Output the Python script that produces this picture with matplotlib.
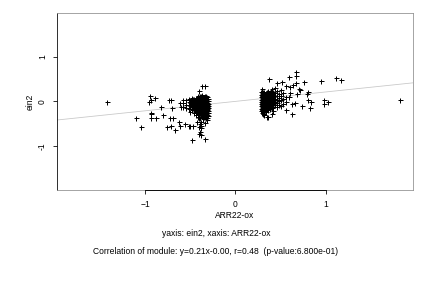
import matplotlib
matplotlib.use("Agg")
import matplotlib.pyplot as plt
import numpy as np

plt.rcParams['font.family'] = ['Liberation Sans', 'DejaVu Sans']

# dense part of the left cluster: column x -> y values
left_cols = [-0.31, -0.32, -0.33, -0.34, -0.35, -0.36, -0.37, -0.38, -0.39,
             -0.40, -0.41, -0.42, -0.43, -0.44, -0.45, -0.46, -0.47, -0.48,
             -0.50, -0.52, -0.55, -0.58]
left_ys = [
    [0.06, 0.01, -0.05, -0.10, -0.15, -0.21, -0.27, -0.33],
    [0.10, 0.05, 0.00, -0.04, -0.08, -0.12, -0.16, -0.20, -0.25, -0.30, -0.36, -0.42],
    [0.12, 0.03, -0.02, -0.06, -0.10, -0.14, -0.18, -0.23, -0.29, -0.38],
    [0.12, 0.07, 0.02, -0.03, -0.07, -0.11, -0.15, -0.19, -0.23, -0.28, -0.33, -0.48],
    [0.09, 0.04, -0.01, -0.05, -0.09, -0.13, -0.17, -0.21, -0.26, -0.34],
    [0.08, 0.03, -0.01, -0.05, -0.09, -0.14, -0.18, -0.22, -0.27, -0.40],
    [0.14, 0.10, 0.05, 0.00, -0.03, -0.07, -0.12, -0.16, -0.20, -0.25, -0.32],
    [0.13, 0.06, 0.01, -0.04, -0.08, -0.13, -0.17, -0.24, -0.31, -0.45, -0.55],
    [0.11, 0.07, 0.02, -0.02, -0.06, -0.10, -0.15, -0.19, -0.26, -0.36],
    [0.09, 0.03, -0.02, -0.06, -0.11, -0.16, -0.21, -0.28, -0.38],
    [0.06, 0.01, -0.04, -0.09, -0.14, -0.20, -0.31],
    [0.11, 0.04, -0.01, -0.07, -0.12, -0.19, -0.26, -0.35],
    [0.08, 0.02, -0.04, -0.10, -0.16, -0.23],
    [0.07, 0.02, -0.03, -0.09, -0.15, -0.22, -0.30],
    [0.04, -0.01, -0.07, -0.13, -0.19],
    [0.05, 0.00, -0.05, -0.10, -0.18, -0.27],
    [0.06, -0.02, -0.08, -0.15],
    [0.08, 0.01, -0.06, -0.13, -0.20],
    [0.03, -0.04, -0.11, -0.24],
    [0.06, -0.02, -0.09, -0.17],
    [0.02, -0.07, -0.14],
    [-0.03, -0.12, 0.04],
]

# dense part of the right cluster
right_cols = [0.28, 0.29, 0.30, 0.31, 0.32, 0.33, 0.34, 0.35, 0.36, 0.37, 0.38,
              0.39, 0.40, 0.42, 0.44, 0.46, 0.48, 0.50, 0.53, 0.56]
right_ys = [
    [0.20, 0.14, 0.09, 0.04, -0.01, -0.06, -0.11, -0.16, -0.22],
    [0.17, 0.11, 0.06, 0.01, -0.04, -0.09, -0.14, -0.19],
    [0.28, 0.18, 0.12, 0.07, 0.02, -0.03, -0.08, -0.13, -0.19, -0.26],
    [0.21, 0.15, 0.10, 0.04, -0.01, -0.06, -0.11, -0.17, -0.23],
    [0.22, 0.15, 0.10, 0.05, 0.00, -0.05, -0.10, -0.15, -0.21, -0.31],
    [0.17, 0.12, 0.07, 0.02, -0.03, -0.08, -0.13, -0.20],
    [0.19, 0.13, 0.08, 0.03, -0.02, -0.07, -0.12, -0.18, -0.24],
    [0.22, 0.14, 0.09, 0.04, -0.01, -0.06, -0.11, -0.16],
    [0.24, 0.16, 0.11, 0.06, 0.01, -0.04, -0.09, -0.14, -0.20],
    [0.18, 0.12, 0.07, 0.02, -0.03, -0.08, -0.13],
    [0.20, 0.14, 0.09, 0.04, -0.01, -0.06, -0.11, -0.17],
    [0.23, 0.16, 0.10, 0.05, 0.00, -0.05, -0.10],
    [0.27, 0.17, 0.12, 0.07, 0.02, -0.03, -0.08, -0.15],
    [0.21, 0.15, 0.10, 0.05, 0.00, -0.05, -0.12, -0.22],
    [0.30, 0.18, 0.11, 0.06, -0.02, -0.09],
    [0.23, 0.13, 0.04, -0.04, -0.13],
    [0.16, 0.08, 0.01, -0.07],
    [0.25, 0.12, 0.03, -0.10],
    [0.18, 0.06, -0.05],
    [0.10, -0.02, 0.35],
]

# scattered points around the clusters
sparse_x = [-1.43, -1.10, -1.05, -0.95, -0.94, -0.89, -0.96, -0.94, -0.94,
            -0.94, -0.88, -0.83, -0.80, -0.76, -0.71, -0.67, -0.73, -0.69,
            -0.48, -0.34, -0.37, -0.34, -0.40, -0.63, -0.61, -0.50, -0.47,
            -0.40, -0.40, -0.43, -0.39, -0.38, -0.39, -0.38, -0.74, -0.71,
            -0.70, -0.61, -0.60, -0.56, -0.52,
            0.67, 0.67, 0.59, 0.37, 1.12, 1.17, 0.95, 0.76, 0.67, 0.52, 0.46,
            0.60, 0.64, 0.70, 0.72, 0.81, 0.79, 0.68, 0.61, 0.59, 0.80, 0.84,
            0.98, 1.03, 0.98, 0.74, 0.83, 0.66, 0.63, 0.56, 0.63, 0.36, 0.35,
            0.31, 0.40, 1.83]
sparse_y = [-0.02, -0.37, -0.57, 0.11, 0.04, 0.07, -0.02, -0.26, -0.29,
            -0.37, -0.37, -0.13, -0.30, -0.58, -0.56, -0.65, -0.37, -0.37,
            -0.87, -0.85, 0.34, 0.34, 0.23, -0.46, -0.54, -0.56, -0.56,
            -0.57, -0.72, -0.46, -0.50, -0.60, -0.68, -0.76, 0.02, 0.04,
            -0.14, -0.03, -0.13, -0.50, -0.55,
            0.66, 0.56, 0.54, 0.49, 0.52, 0.47, 0.45, 0.43, 0.42, 0.43, 0.41,
            0.32, 0.36, 0.28, 0.25, 0.21, 0.17, 0.16, 0.19, 0.10, 0.02, -0.02,
            0.04, -0.02, -0.05, -0.11, -0.14, -0.04, -0.05, -0.20, -0.29, -0.34,
            -0.35, -0.28, -0.28, 0.02]

slope = 0.21
intercept = 0.00
x_ticks = [-1, 0, 1]
y_ticks = [-1, 0, 1]

xs, ys = [], []
for cx, col in zip(left_cols + right_cols, left_ys + right_ys):
    xs += [cx] * len(col)
    ys += col
xs += sparse_x
ys += sparse_y

fig = plt.figure(figsize=(6, 4), dpi=72)
ax = fig.add_axes([0.132, 0.34, 0.824, 0.616])

xlim = (-1.98, 1.97)
ax.set_xlim(xlim)
ax.set_ylim(-1.98, 1.98)

lx = np.array(xlim)
ax.plot(lx, slope * lx + intercept, color='#c8c8c8', lw=0.8, zorder=1)
ax.plot(xs, ys, '+', color='black', ms=5, mew=1.0, zorder=2)

for s in ['top', 'right', 'bottom']:
    ax.spines[s].set_color('#909090')
ax.spines['left'].set_color('black')
for s in ax.spines.values():
    s.set_linewidth(0.8)
ax.plot([-1, 1], [-1.98, -1.98], color='black', lw=0.9, clip_on=False, zorder=3)

ax.set_xticks(x_ticks)
ax.set_yticks(y_ticks)
ax.set_yticklabels([str(t) for t in y_ticks], rotation=90, va='center')
ax.tick_params(direction='out', length=4, width=0.8, labelsize=8.5, pad=6)

ax.set_xlabel('ARR22-ox', fontsize=8.5, labelpad=2)
ax.set_ylabel('ein2', fontsize=8.5, labelpad=3)

fig.text(0.5, 0.19, 'yaxis: ein2, xaxis: ARR22-ox', ha='center', va='center', fontsize=8.5)
fig.text(0.5, 0.128, 'Correlation of module: y=0.21x-0.00, r=0.48  (p-value:6.800e-01)',
         ha='center', va='center', fontsize=8.5)

fig.savefig('out.png', dpi=72)
